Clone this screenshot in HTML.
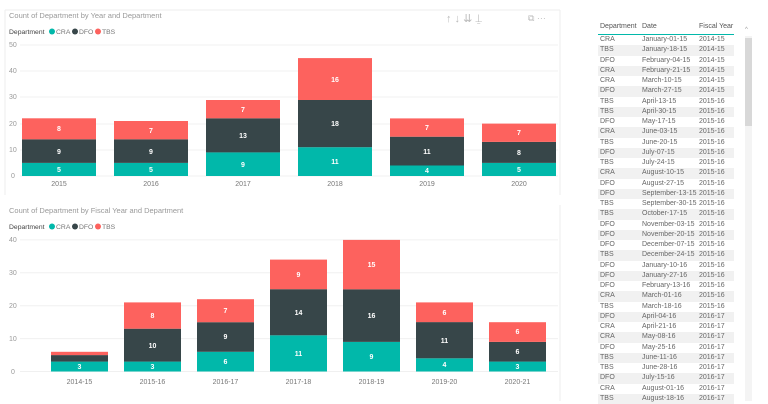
<!DOCTYPE html>
<html><head><meta charset="utf-8"><style>
body{margin:0;width:768px;height:401px;overflow:hidden;background:#fff;font-family:"Liberation Sans",sans-serif;position:relative}
svg{position:absolute;left:0;top:0}
#tbl{position:absolute;left:598px;top:22px;width:136px;font-size:7px;color:#666}
.r{height:10.25px;line-height:10.25px;position:relative;white-space:nowrap}
.r span{position:absolute}
.r span:nth-child(1){left:2px}.r span:nth-child(2){left:44px}.r span:nth-child(3){left:101px}
.r:nth-child(odd){background:#f1f1f1}
.h{height:12px;line-height:10px;border-bottom:1px solid #01B8AA;color:#555;position:relative;background:#fff!important}
.h span{position:absolute}
.h span:nth-child(1){left:2px}.h span:nth-child(2){left:44px}.h span:nth-child(3){left:101px}
</style></head><body>
<svg width="768" height="401" font-family="Liberation Sans, sans-serif">
<line x1="5" y1="10" x2="560" y2="10" stroke="#eee"/>
<line x1="560" y1="10" x2="560" y2="195" stroke="#eee"/>
<line x1="5" y1="10" x2="5" y2="195" stroke="#eee"/>
<line x1="560" y1="205" x2="560" y2="401" stroke="#eee"/>
<text x="9" y="18" font-size="7.5" fill="#999">Count of Department by Year and Department</text>
<text x="446" y="22" font-size="11" fill="#bbb">↑ ↓ ⇊ ⍊</text>
<text x="528" y="21" font-size="9" fill="#bbb">⧉ ⋯</text>
<g font-size="6.8">
<text x="9" y="34" fill="#444">Department</text>
<circle cx="52" cy="31.5" r="3" fill="#01B8AA"/><text x="56" y="34" fill="#777">CRA</text>
<circle cx="75" cy="31.5" r="3" fill="#374649"/><text x="79" y="34" fill="#777">DFO</text>
<circle cx="98" cy="31.5" r="3" fill="#FD625E"/><text x="102" y="34" fill="#777">TBS</text>
</g>
<g stroke="#f0f0f0"><line x1="20" x2="558" y1="45" y2="45"/><line x1="20" x2="558" y1="71" y2="71"/><line x1="20" x2="558" y1="97" y2="97"/><line x1="20" x2="558" y1="124" y2="124"/><line x1="20" x2="558" y1="150" y2="150"/><line x1="20" x2="558" y1="176" y2="176"/></g>
<g font-size="7" fill="#999"><text x="9" y="47">50</text><text x="9" y="73">40</text><text x="9" y="99">30</text><text x="9" y="126">20</text><text x="9" y="152">10</text><text x="11" y="178">0</text></g>
<g font-size="7" fill="#777" text-anchor="middle"><text x="59" y="186">2015</text><text x="151" y="186">2016</text><text x="243" y="186">2017</text><text x="335" y="186">2018</text><text x="427" y="186">2019</text><text x="519" y="186">2020</text></g>
<g>
<rect x="22" y="162.9" width="74" height="13.1" fill="#01B8AA"/><rect x="22" y="139.3" width="74" height="23.6" fill="#374649"/><rect x="22" y="118.3" width="74" height="21" fill="#FD625E"/>
<rect x="114" y="162.9" width="74" height="13.1" fill="#01B8AA"/><rect x="114" y="139.3" width="74" height="23.6" fill="#374649"/><rect x="114" y="121" width="74" height="18.3" fill="#FD625E"/>
<rect x="206" y="152.4" width="74" height="23.6" fill="#01B8AA"/><rect x="206" y="118.3" width="74" height="34.1" fill="#374649"/><rect x="206" y="100" width="74" height="18.3" fill="#FD625E"/>
<rect x="298" y="147.2" width="74" height="28.8" fill="#01B8AA"/><rect x="298" y="100" width="74" height="47.2" fill="#374649"/><rect x="298" y="58.1" width="74" height="41.9" fill="#FD625E"/>
<rect x="390" y="165.5" width="74" height="10.5" fill="#01B8AA"/><rect x="390" y="136.7" width="74" height="28.8" fill="#374649"/><rect x="390" y="118.4" width="74" height="18.3" fill="#FD625E"/>
<rect x="482" y="162.9" width="74" height="13.1" fill="#01B8AA"/><rect x="482" y="141.9" width="74" height="21" fill="#374649"/><rect x="482" y="123.6" width="74" height="18.3" fill="#FD625E"/>
</g>
<g font-size="7" font-weight="bold" fill="#fff" text-anchor="middle">
<text x="59" y="172">5</text><text x="59" y="154">9</text><text x="59" y="131">8</text>
<text x="151" y="172">5</text><text x="151" y="154">9</text><text x="151" y="133">7</text>
<text x="243" y="167">9</text><text x="243" y="138">13</text><text x="243" y="112">7</text>
<text x="335" y="164">11</text><text x="335" y="126">18</text><text x="335" y="82">16</text>
<text x="427" y="173">4</text><text x="427" y="154">11</text><text x="427" y="130">7</text>
<text x="519" y="172">5</text><text x="519" y="155">8</text><text x="519" y="135">7</text>
</g>

<text x="9" y="213" font-size="7.5" fill="#999">Count of Department by Fiscal Year and Department</text>
<g font-size="6.8">
<text x="9" y="229" fill="#444">Department</text>
<circle cx="52" cy="226.5" r="3" fill="#01B8AA"/><text x="56" y="229" fill="#777">CRA</text>
<circle cx="75" cy="226.5" r="3" fill="#374649"/><text x="79" y="229" fill="#777">DFO</text>
<circle cx="98" cy="226.5" r="3" fill="#FD625E"/><text x="102" y="229" fill="#777">TBS</text>
</g>
<g stroke="#f0f0f0"><line x1="20" x2="558" y1="239.9" y2="239.9"/><line x1="20" x2="558" y1="272.8" y2="272.8"/><line x1="20" x2="558" y1="305.7" y2="305.7"/><line x1="20" x2="558" y1="338.6" y2="338.6"/><line x1="20" x2="558" y1="371.5" y2="371.5"/></g>
<g font-size="7" fill="#999"><text x="9" y="242">40</text><text x="9" y="275">30</text><text x="9" y="308">20</text><text x="9" y="341">10</text><text x="11" y="374">0</text></g>
<g font-size="7" fill="#777" text-anchor="middle"><text x="79.5" y="384">2014-15</text><text x="152.5" y="384">2015-16</text><text x="225.5" y="384">2016-17</text><text x="298.5" y="384">2017-18</text><text x="371.5" y="384">2018-19</text><text x="444.5" y="384">2019-20</text><text x="517.5" y="384">2020-21</text></g>
<g>
<rect x="51" y="361.6" width="57" height="9.9" fill="#01B8AA"/><rect x="51" y="355.1" width="57" height="6.5" fill="#374649"/><rect x="51" y="351.8" width="57" height="3.3" fill="#FD625E"/>
<rect x="124" y="361.6" width="57" height="9.9" fill="#01B8AA"/><rect x="124" y="328.7" width="57" height="32.9" fill="#374649"/><rect x="124" y="302.4" width="57" height="26.3" fill="#FD625E"/>
<rect x="197" y="351.8" width="57" height="19.7" fill="#01B8AA"/><rect x="197" y="322.2" width="57" height="29.6" fill="#374649"/><rect x="197" y="299.2" width="57" height="23" fill="#FD625E"/>
<rect x="270" y="335.3" width="57" height="36.2" fill="#01B8AA"/><rect x="270" y="289.2" width="57" height="46.1" fill="#374649"/><rect x="270" y="259.6" width="57" height="29.6" fill="#FD625E"/>
<rect x="343" y="341.9" width="57" height="29.6" fill="#01B8AA"/><rect x="343" y="289.3" width="57" height="52.6" fill="#374649"/><rect x="343" y="239.9" width="57" height="49.4" fill="#FD625E"/>
<rect x="416" y="358.3" width="57" height="13.2" fill="#01B8AA"/><rect x="416" y="322.1" width="57" height="36.2" fill="#374649"/><rect x="416" y="302.4" width="57" height="19.7" fill="#FD625E"/>
<rect x="489" y="361.6" width="57" height="9.9" fill="#01B8AA"/><rect x="489" y="341.9" width="57" height="19.7" fill="#374649"/><rect x="489" y="322.2" width="57" height="19.7" fill="#FD625E"/>
</g>
<g font-size="7" font-weight="bold" fill="#fff" text-anchor="middle">
<text x="79.5" y="369">3</text>
<text x="152.5" y="369">3</text><text x="152.5" y="348">10</text><text x="152.5" y="318">8</text>
<text x="225.5" y="364">6</text><text x="225.5" y="339">9</text><text x="225.5" y="313">7</text>
<text x="298.5" y="356">11</text><text x="298.5" y="315">14</text><text x="298.5" y="277">9</text>
<text x="371.5" y="359">9</text><text x="371.5" y="318">16</text><text x="371.5" y="267">15</text>
<text x="444.5" y="367">4</text><text x="444.5" y="343">11</text><text x="444.5" y="315">6</text>
<text x="517.5" y="369">3</text><text x="517.5" y="354">6</text><text x="517.5" y="334">6</text>
</g>
<rect x="745" y="36" width="7" height="365" fill="#f4f4f4"/>
<rect x="745" y="38" width="7" height="88" fill="#d8d8d8"/>
<text x="745" y="31" font-size="6" fill="#999">^</text>
</svg>
<div id="tbl">
<div class="h"><span>Department</span><span>Date</span><span>Fiscal Year</span></div>
<div class="r"><span>CRA</span><span>January-01-15</span><span>2014-15</span></div>
<div class="r"><span>TBS</span><span>January-18-15</span><span>2014-15</span></div>
<div class="r"><span>DFO</span><span>February-04-15</span><span>2014-15</span></div>
<div class="r"><span>CRA</span><span>February-21-15</span><span>2014-15</span></div>
<div class="r"><span>CRA</span><span>March-10-15</span><span>2014-15</span></div>
<div class="r"><span>DFO</span><span>March-27-15</span><span>2014-15</span></div>
<div class="r"><span>TBS</span><span>April-13-15</span><span>2015-16</span></div>
<div class="r"><span>TBS</span><span>April-30-15</span><span>2015-16</span></div>
<div class="r"><span>DFO</span><span>May-17-15</span><span>2015-16</span></div>
<div class="r"><span>CRA</span><span>June-03-15</span><span>2015-16</span></div>
<div class="r"><span>TBS</span><span>June-20-15</span><span>2015-16</span></div>
<div class="r"><span>DFO</span><span>July-07-15</span><span>2015-16</span></div>
<div class="r"><span>TBS</span><span>July-24-15</span><span>2015-16</span></div>
<div class="r"><span>CRA</span><span>August-10-15</span><span>2015-16</span></div>
<div class="r"><span>DFO</span><span>August-27-15</span><span>2015-16</span></div>
<div class="r"><span>DFO</span><span>September-13-15</span><span>2015-16</span></div>
<div class="r"><span>TBS</span><span>September-30-15</span><span>2015-16</span></div>
<div class="r"><span>TBS</span><span>October-17-15</span><span>2015-16</span></div>
<div class="r"><span>DFO</span><span>November-03-15</span><span>2015-16</span></div>
<div class="r"><span>DFO</span><span>November-20-15</span><span>2015-16</span></div>
<div class="r"><span>DFO</span><span>December-07-15</span><span>2015-16</span></div>
<div class="r"><span>TBS</span><span>December-24-15</span><span>2015-16</span></div>
<div class="r"><span>DFO</span><span>January-10-16</span><span>2015-16</span></div>
<div class="r"><span>DFO</span><span>January-27-16</span><span>2015-16</span></div>
<div class="r"><span>DFO</span><span>February-13-16</span><span>2015-16</span></div>
<div class="r"><span>CRA</span><span>March-01-16</span><span>2015-16</span></div>
<div class="r"><span>TBS</span><span>March-18-16</span><span>2015-16</span></div>
<div class="r"><span>DFO</span><span>April-04-16</span><span>2016-17</span></div>
<div class="r"><span>CRA</span><span>April-21-16</span><span>2016-17</span></div>
<div class="r"><span>CRA</span><span>May-08-16</span><span>2016-17</span></div>
<div class="r"><span>DFO</span><span>May-25-16</span><span>2016-17</span></div>
<div class="r"><span>TBS</span><span>June-11-16</span><span>2016-17</span></div>
<div class="r"><span>TBS</span><span>June-28-16</span><span>2016-17</span></div>
<div class="r"><span>DFO</span><span>July-15-16</span><span>2016-17</span></div>
<div class="r"><span>CRA</span><span>August-01-16</span><span>2016-17</span></div>
<div class="r"><span>TBS</span><span>August-18-16</span><span>2016-17</span></div>
</div>
</body></html>
